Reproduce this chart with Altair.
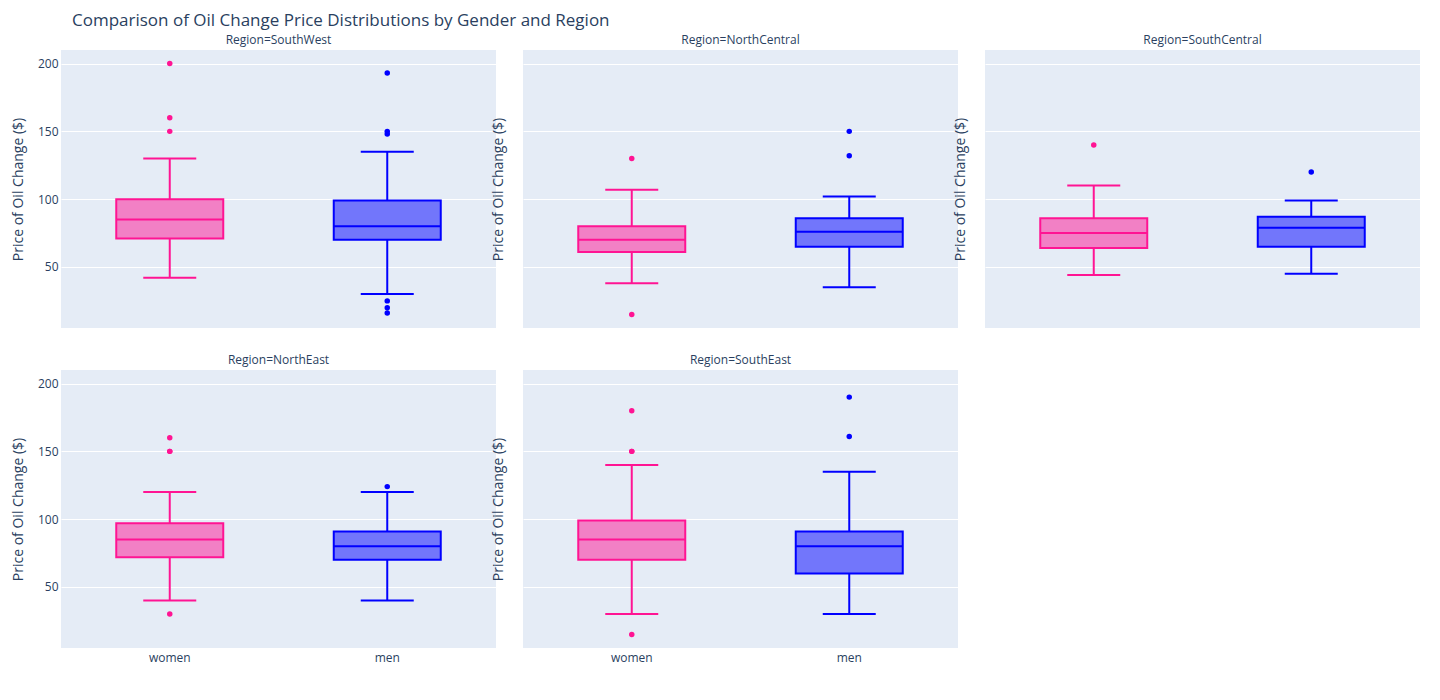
import altair as alt
import pandas as pd

# ---------------- data ----------------
regions = ["SouthWest", "NorthCentral", "SouthCentral", "NorthEast", "SouthEast"]
genders = ["women", "men"]

women_low = [42, 38, 44, 40, 30]
women_q1 = [71, 61, 64, 72, 70]
women_median = [85, 70, 75, 85, 85]
women_q3 = [100, 80, 86, 97, 99]
women_high = [130, 107, 110, 120, 140]
women_outliers = [[200, 160, 150], [130, 15], [140], [160, 150, 150, 30], [180, 150, 150, 15]]

men_low = [30, 35, 45, 40, 30]
men_q1 = [70, 65, 65, 70, 60]
men_median = [80, 76, 79, 80, 80]
men_q3 = [99, 86, 87, 91, 91]
men_high = [135, 102, 99, 120, 135]
men_outliers = [[193, 150, 148, 25, 20, 16], [150, 132], [120], [124], [190, 161]]

# ---------------- tables ----------------
stat_rows = []
out_rows = []
for i, r in enumerate(regions):
    stat_rows.append(dict(region=r, gender="women", low=women_low[i], q1=women_q1[i],
                          median=women_median[i], q3=women_q3[i], high=women_high[i]))
    stat_rows.append(dict(region=r, gender="men", low=men_low[i], q1=men_q1[i],
                          median=men_median[i], q3=men_q3[i], high=men_high[i]))
    for v in women_outliers[i]:
        out_rows.append(dict(region=r, gender="women", value=v))
    for v in men_outliers[i]:
        out_rows.append(dict(region=r, gender="men", value=v))
stats = pd.DataFrame(stat_rows)
outs = pd.DataFrame(out_rows)

# ---------------- style ----------------
FONT = "Open Sans"
TXT = "#2a3f5f"
PINK = "#FF1493"
BLUE = "#0000FF"
W, H = 435, 278
BOX_W, CAP_W = 107, 53

color_scale = alt.Scale(domain=genders, range=[PINK, BLUE])
y_scale = alt.Scale(domain=[5, 210], nice=False, zero=False)


def panel(i, show_ylabels, show_xlabels, title_x):
    r = regions[i]
    s = stats[stats.region == r]
    o = outs[outs.region == r]

    x = alt.X("gender:N", sort=genders,
              scale=alt.Scale(domain=genders, paddingInner=0, paddingOuter=0),
              axis=alt.Axis(title=None, labels=show_xlabels, ticks=False, tickSize=0,
                            domain=False, grid=False, labelAngle=0, labelPadding=4,
                            labelFontSize=12, labelColor=TXT, labelFont=FONT))
    y_axis = alt.Axis(values=[50, 100, 150, 200], labels=show_ylabels, ticks=False,
                      tickSize=0, domain=False, grid=True, gridColor="white", gridWidth=1,
                      labelPadding=3, labelFontSize=12, labelColor=TXT, labelFont=FONT,
                      title="Price of Oil Change ($)", titleFont=FONT, titleFontSize=14,
                      titleFontWeight="normal", titleColor=TXT, titleX=title_x,
                      titleY=H / 2, titleAngle=-90, titleAlign="center",
                      titleBaseline="middle")
    col = alt.Color("gender:N", scale=color_scale, legend=None)

    def Y(field):
        return alt.Y(f"{field}:Q", scale=y_scale, axis=y_axis)

    base = alt.Chart(s)
    lo_rule = base.mark_rule(strokeWidth=2).encode(x=x, y=Y("low"), y2="q1:Q", color=col)
    hi_rule = base.mark_rule(strokeWidth=2).encode(x=x, y=Y("q3"), y2="high:Q", color=col)
    lo_cap = base.mark_tick(size=CAP_W, thickness=2, opacity=1).encode(x=x, y=Y("low"), color=col)
    hi_cap = base.mark_tick(size=CAP_W, thickness=2, opacity=1).encode(x=x, y=Y("high"), color=col)
    box = base.mark_bar(size=BOX_W, fillOpacity=0.5, strokeWidth=2).encode(
        x=x, y=Y("q1"), y2="q3:Q", color=col,
        stroke=alt.Stroke("gender:N", scale=color_scale, legend=None))
    med = base.mark_tick(size=BOX_W, thickness=2, opacity=1).encode(x=x, y=Y("median"), color=col)
    pts = alt.Chart(o).mark_circle(size=30, opacity=1).encode(x=x, y=Y("value"), color=col)

    return alt.layer(lo_rule, hi_rule, lo_cap, hi_cap, box, med, pts).properties(
        width=W, height=H,
        title=alt.TitleParams(f"Region={r}", font=FONT, fontSize=12, fontWeight="normal",
                              color=TXT, anchor="middle", offset=3))


chart = alt.concat(
    panel(0, True, False, -43), panel(1, False, False, -25), panel(2, False, False, -25),
    panel(3, True, True, -43), panel(4, False, True, -25),
    columns=3, spacing={"row": 42, "column": 27}, bounds="flush",
).properties(
    title=alt.TitleParams("Comparison of Oil Change Price Distributions by Gender and Region",
                          font=FONT, fontSize=17, fontWeight="normal", color=TXT,
                          anchor="start", dx=61, offset=4),
    padding={"left": 3, "top": 4, "right": 5, "bottom": 5},
    background="white",
).configure_view(fill="#E5ECF6", strokeWidth=0)

chart.save("out.html", embed_options={"renderer": "svg", "actions": False})
